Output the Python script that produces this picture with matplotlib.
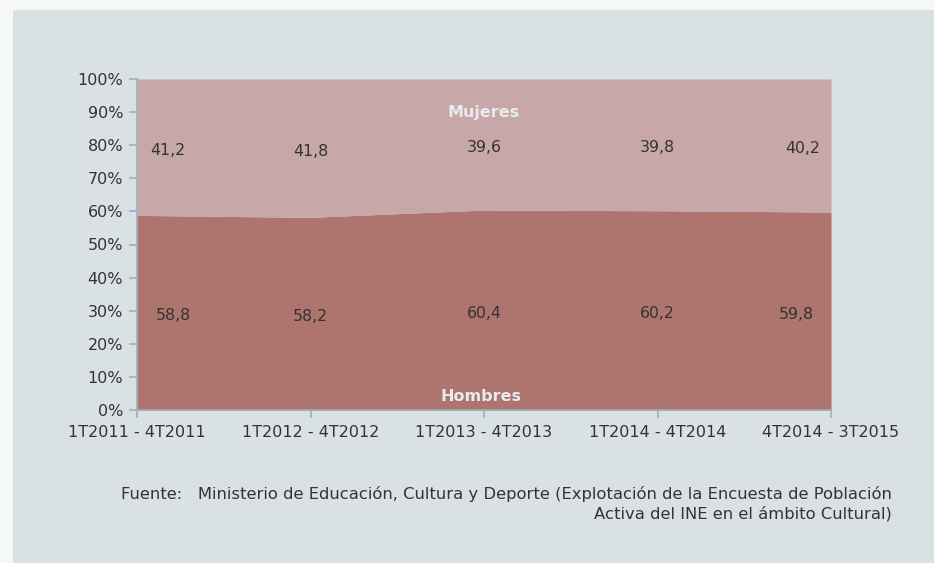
import matplotlib
matplotlib.use("Agg")
import matplotlib.pyplot as plt
from matplotlib.patches import Rectangle
import matplotlib.transforms as mtransforms
import numpy as np

categories = ["1T2011 - 4T2011", "1T2012 - 4T2012", "1T2013 - 4T2013",
              "1T2014 - 4T2014", "4T2014 - 3T2015"]
hombres = [58.8, 58.2, 60.4, 60.2, 59.8]
mujeres = [41.2, 41.8, 39.6, 39.8, 40.2]
yticks = [0, 10, 20, 30, 40, 50, 60, 70, 80, 90, 100]
source_line1 = "Fuente:   Ministerio de Educación, Cultura y Deporte (Explotación de la Encuesta de Población"
source_line2 = "Activa del INE en el ámbito Cultural)"

plt.rcParams['font.family'] = ['DejaVu Sans']
W, H = 934, 563
fig = plt.figure(figsize=(W / 100, H / 100), dpi=100)
fig.patch.set_facecolor("#f6f7f7")
fig.patches.append(Rectangle((13 / W, 0), 1 - 13 / W, (H - 10) / H,
                             transform=fig.transFigure, facecolor="#d9e1e4",
                             edgecolor="none", zorder=-10))

ax = fig.add_axes([137 / W, 1 - 410 / H, (831 - 137) / W, (410 - 79) / H])
ax.set_zorder(1)
ax.set_facecolor("none")
x = np.arange(len(categories))
h = np.array(hombres)
m = np.array(mujeres)
c_h = "#ae756f"
c_m = "#c8a7a9"
ax.fill_between(x, 0, h, color=c_h, lw=0)
ax.fill_between(x, h, h + m, color=c_m, lw=0)
ax.set_xlim(0, len(categories) - 1)
ax.set_ylim(0, 100)
ax.set_yticks(yticks)
ax.set_yticklabels([f"{v}%" for v in yticks])
ax.set_xticks(x)
ax.set_xticklabels(categories)
for s in ["top", "right"]:
    ax.spines[s].set_visible(False)
for s in ["left", "bottom"]:
    ax.spines[s].set_color("#9fb0b6")
    ax.spines[s].set_linewidth(1.2)
ax.tick_params(axis="both", colors="#9fb0b6", labelcolor="#333333",
               labelsize=11.5, length=6, width=1.2)
ax.tick_params(axis="y", pad=4)
ax.tick_params(axis="x", pad=5)

shift = mtransforms.offset_copy(ax.transData, fig=fig, x=0, y=-3, units="dots")
off_h = [0.21, 0, 0, 0, -0.20]
off_m = [0.18, 0, 0, 0, -0.165]
for i in range(len(categories)):
    ax.text(x[i] + off_h[i], h[i] / 2, f"{hombres[i]:.1f}".replace(".", ","),
            ha="center", va="center", fontsize=11.3, color="#333333",
            transform=shift)
    ax.text(x[i] + off_m[i], h[i] + m[i] / 2,
            f"{mujeres[i]:.1f}".replace(".", ","), ha="center", va="center",
            fontsize=11.3, color="#333333", transform=shift)

ax.text(2, 90, "Mujeres", ha="center", va="center", fontsize=11.5,
        fontweight="bold", color="#e6ecee")
ax.text(1.98, 4.2, "Hombres", ha="center", va="center", fontsize=11.5,
        fontweight="bold", color="#e6ecee")

fig.text(892 / W, 1 - 494 / H, source_line1, ha="right", va="center",
         fontsize=11.8, color="#333333")
fig.text(892 / W, 1 - 514 / H, source_line2, ha="right", va="center",
         fontsize=11.8, color="#333333")

fig.savefig("out.png", dpi=100, facecolor=fig.get_facecolor())
